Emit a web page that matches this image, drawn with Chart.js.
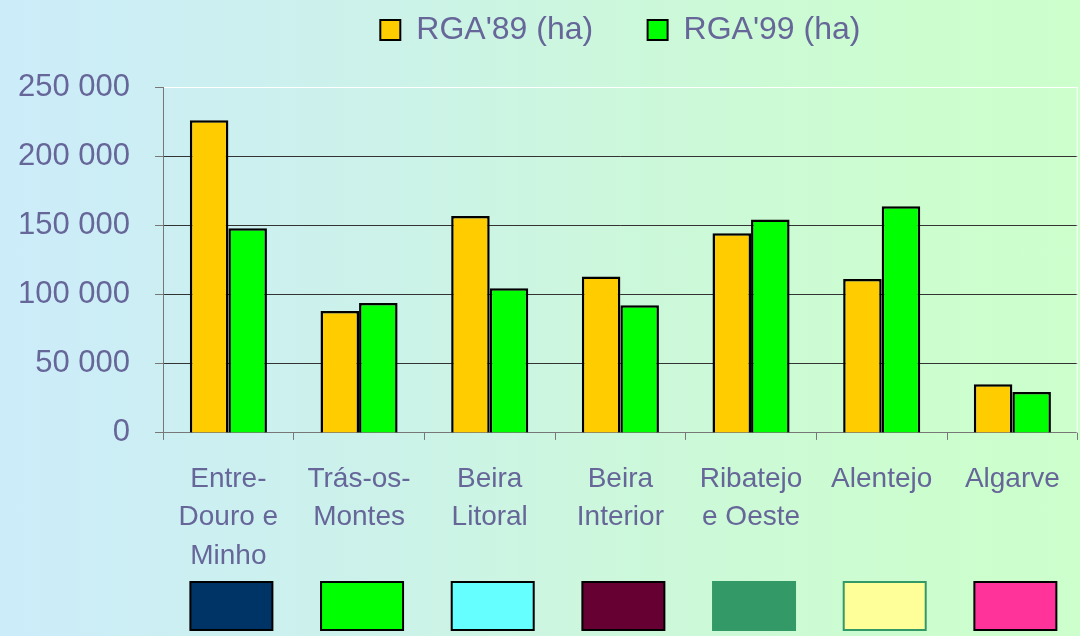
<!DOCTYPE html>
<html>
<head>
<meta charset="utf-8">
<script src="https://cdn.jsdelivr.net/npm/chart.js@4/dist/chart.umd.min.js"></script>
<style>
  html, body { margin: 0; padding: 0; }
  body { width: 1080px; height: 636px; overflow: hidden;
    background: linear-gradient(to right, #CCECFA 0%, #CCF2EA 35%, #CCF8DA 60%, #CCFDCF 85%, #CCFFCC 100%); }
  #wrap { position: relative; width: 1080px; height: 636px; }
</style>
</head>
<body>
<div id="wrap"><canvas id="c"></canvas></div>
<script>
// ---- data ----
const categories = [
  ["Entre-", "Douro e", "Minho"],
  ["Trás-os-", "Montes"],
  ["Beira", "Litoral"],
  ["Beira", "Interior"],
  ["Ribatejo", "e Oeste"],
  ["Alentejo"],
  ["Algarve"]
];
const seriesNames = ["RGA'89 (ha)", "RGA'99 (ha)"];
const rga89 = [226000, 88100, 156800, 113100, 144300, 111200, 35100];
const rga99 = [147900, 93900, 104500, 92200, 154200, 163800, 29500];
const yTicks = [0, 50000, 100000, 150000, 200000, 250000];

// region key colours (decorative swatches under the categories)
const regionFill   = ["#003366", "#00FF00", "#66FFFF", "#660033", "#339966", "#FFFF99", "#FF3399"];
const regionStroke = ["#000000", "#000000", "#000000", "#000000", "#339966", "#339966", "#000000"];

const txt = "#666699";
const fontFam = "'Liberation Sans', Arial, sans-serif";

function fmt(v) { return String(v).replace(/\B(?=(\d{3})+(?!\d))/g, " "); }

const extras = {
  id: "extras",
  beforeInit(chart) {
    const lg = chart.legend;
    if (lg) {
      const fit = lg.fit;
      lg.fit = function () { fit.call(this); this.height += 31; };
    }
  },
  afterDatasetsDraw(chart) {
    const ctx = chart.ctx, a = chart.chartArea;
    ctx.save();
    ctx.strokeStyle = "#FFFFFF";
    ctx.lineWidth = 1;
    ctx.beginPath();
    ctx.moveTo(a.right - 0.5, a.top);
    ctx.lineTo(a.right - 0.5, a.bottom);
    ctx.stroke();
    ctx.restore();
  },
  afterDraw(chart) {
    const ctx = chart.ctx, x = chart.scales.x;
    ctx.save();
    ctx.lineWidth = 2;
    categories.forEach((c, i) => {
      const cx = x.getPixelForValue(i) + 3;
      const w = 82, h = 48, top = 582;
      ctx.fillStyle = regionFill[i];
      ctx.fillRect(cx - w / 2, top, w, h);
      ctx.strokeStyle = regionStroke[i];
      ctx.strokeRect(cx - w / 2, top, w, h);
    });
    ctx.restore();
  }
};

new Chart(document.getElementById("c"), {
  type: "bar",
  data: {
    labels: categories,
    datasets: [
      { label: seriesNames[0], data: rga89, backgroundColor: "#FFCC00", borderColor: "#000000", borderWidth: 2.5 },
      { label: seriesNames[1], data: rga99, backgroundColor: "#00FF00", borderColor: "#000000", borderWidth: 2.5 }
    ]
  },
  options: {
    responsive: true,
    maintainAspectRatio: false,
    animation: false,
    layout: { padding: { left: -7, right: 2, top: 4, bottom: 41 } },
    datasets: { bar: { categoryPercentage: 0.59, barPercentage: 1.0 } },
    plugins: {
      tooltip: { enabled: false },
      legend: {
        position: "top",
        fullSize: false,
        labels: {
          color: txt,
          font: { family: fontFam, size: 32 },
          boxWidth: 20,
          boxHeight: 20,
          padding: 10,
          generateLabels(chart) {
            const items = Chart.defaults.plugins.legend.labels.generateLabels(chart);
            items.forEach((it, i) => { it.lineWidth = 2; if (i < items.length - 1) it.text = it.text + "\u00a0\u00a0\u00a0\u00a0\u00a0"; });
            return items;
          }
        }
      }
    },
    scales: {
      x: {
        grid: { offset: true, drawOnChartArea: false, tickLength: 7, color: "#777777", lineWidth: 1 },
        border: { color: "#777777", width: 1 },
        ticks: { color: txt, font: { family: fontFam, size: 28, lineHeight: 1.37 }, padding: 20, maxRotation: 0, autoSkip: false }
      },
      y: {
        min: 0, max: 250000,
        afterBuildTicks(scale) { scale.ticks = yTicks.map(v => ({ value: v })); },
        grid: {
          tickLength: 8,
          color: c => (c.tick && c.tick.value === 250000) ? "#FFFFFF" : (c.tick && c.tick.value === 0 ? "#777777" : "#333333"),
          tickColor: "#777777",
          lineWidth: 1
        },
        border: { color: "#777777", width: 1 },
        ticks: { color: txt, font: { family: fontFam, size: 31 }, padding: 25, callback: v => fmt(v) }
      }
    }
  },
  plugins: [extras]
});
</script>
</body>
</html>
